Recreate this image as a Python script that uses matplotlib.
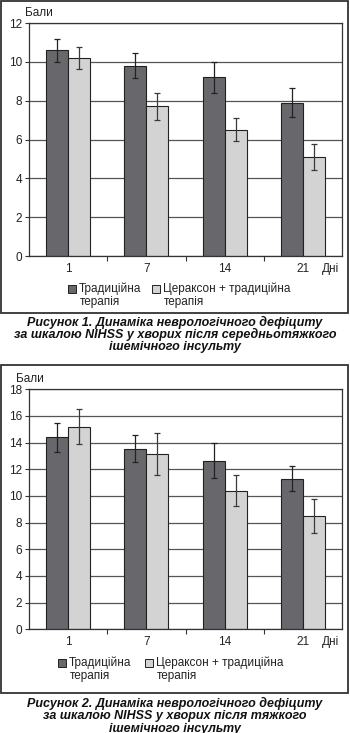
import matplotlib
matplotlib.use("Agg")
import matplotlib.pyplot as plt
from matplotlib.patches import Rectangle
import numpy as np

plt.rcParams['font.family'] = ['Liberation Sans', 'DejaVu Sans']

W, H = 350, 733

days = ['1', '7', '14', '21']

# Рисунок 1 - середньотяжкий інсульт
trad_1 = [10.6, 9.8, 9.2, 7.9]
trad_1_err = [0.6, 0.65, 0.8, 0.75]
cer_1 = [10.2, 7.7, 6.5, 5.1]
cer_1_err = [0.55, 0.67, 0.6, 0.65]

# Рисунок 2 - тяжкий інсульт
trad_2 = [14.4, 13.55, 12.65, 11.3]
trad_2_err = [1.1, 1.0, 1.3, 0.95]
cer_2 = [15.2, 13.15, 10.4, 8.5]
cer_2_err = [1.3, 1.55, 1.15, 1.25]

labels = [['Традиційна', 'терапія'], ['Цераксон + традиційна', 'терапія']]
dark = '#68686c'
light = '#d3d3d3'
txt = '#222222'
fs = 8.5


def fx(x):
    return x / W


def fy(y):
    return 1 - y / H


fig = plt.figure(figsize=(W / 100, H / 100), dpi=100)


def panel(top, bottom, frame, trad, trad_err, cer, cer_err, ymax,
          bali_x, legend_y, sq_x, captions, cap_y):
    # рамка навколо рисунка
    fig.patches.append(Rectangle((fx(frame[0]), fy(frame[3])),
                                 (frame[2] - frame[0]) / W,
                                 (frame[3] - frame[1]) / H,
                                 transform=fig.transFigure, fill=False,
                                 edgecolor='#333333', lw=1.3))

    ax = fig.add_axes([fx(29), fy(bottom), 313 / W, (bottom - top) / H])
    x = np.arange(len(days))
    w = 0.28
    ax.bar(x - w / 2, trad, w, color=dark, edgecolor='#222222', lw=0.8, zorder=2)
    ax.bar(x + w / 2, cer, w, color=light, edgecolor='#222222', lw=0.8, zorder=2)
    ax.errorbar(x - w / 2, trad, yerr=trad_err, fmt='none', ecolor='#222222',
                elinewidth=0.9, capsize=2.5, capthick=0.9, zorder=3)
    ax.errorbar(x + w / 2, cer, yerr=cer_err, fmt='none', ecolor='#3a3a3a',
                elinewidth=0.9, capsize=2.5, capthick=0.9, zorder=3)

    ax.set_xlim(-0.5, 3.5)
    ax.set_ylim(0, ymax)
    ax.set_yticks(np.arange(0, ymax + 1, 2))
    ax.yaxis.grid(True, color='#555555', lw=0.9, zorder=0)
    ax.set_axisbelow(True)

    ax.set_xticks([0.5, 1.5, 2.5])
    ax.set_xticklabels([])
    ax.set_xticks(x, minor=True)
    ax.set_xticklabels(days, minor=True)
    ax.tick_params(axis='x', which='major', length=3.5, width=0.8, color='#333333')
    ax.tick_params(axis='x', which='minor', length=0, pad=5, labelsize=fs,
                   labelcolor=txt)
    ax.tick_params(axis='y', length=3, width=0.8, pad=2, labelsize=fs,
                   labelcolor=txt, color='#333333')
    for s in ax.spines.values():
        s.set_color('#333333')
        s.set_linewidth(0.9)

    fig.text(fx(330), fy(bottom + 13), 'Дні', ha='center', va='center',
             fontsize=fs, color=txt)
    fig.text(fx(bali_x), fy(top - 10.5), 'Бали', ha='left', va='center',
             fontsize=fs, color=txt)

    # легенда
    for sx, col, lab in zip(sq_x, [dark, light], labels):
        fig.patches.append(Rectangle((fx(sx), fy(legend_y + 4)), 8 / W, 8 / H,
                                     transform=fig.transFigure, facecolor=col,
                                     edgecolor='#222222', lw=0.7))
        for i, line in enumerate(lab):
            fig.text(fx(sx + 11 if i == 0 else sx + 12), fy(legend_y + 13 * i),
                     line, ha='left', va='center', fontsize=fs, color=txt)

    for cy, line in zip(cap_y, captions):
        fig.text(0.5, fy(cy), line, ha='center', va='center', fontsize=9,
                 fontweight='bold', fontstyle='italic', color='#111111')


panel(23, 256, (1, 1, 348, 313), trad_1, trad_1_err, cer_1, cer_1_err, 12,
      25, 289, (68, 152),
      ['Рисунок 1. Динаміка неврологічного дефіциту',
       'за шкалою NIHSS у хворих після середньотяжкого',
       'ішемічного інсульту'],
      (322, 334.5, 347))

panel(389.3, 629.3, (1, 365, 348, 693), trad_2, trad_2_err, cer_2, cer_2_err, 18,
      16, 663, (58, 145),
      ['Рисунок 2. Динаміка неврологічного дефіциту',
       'за шкалою NIHSS у хворих після тяжкого',
       'ішемічного інсульту'],
      (703, 716, 728.5))

fig.savefig('out.png', dpi=100)
